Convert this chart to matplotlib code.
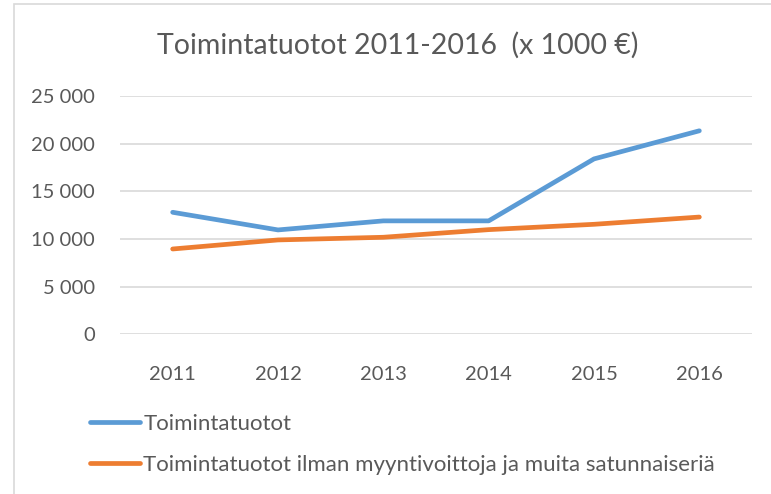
import numpy as np
import matplotlib.pyplot as plt
from matplotlib.patches import Rectangle

years = ['2011', '2012', '2013', '2014', '2015', '2016']
tuotot = [12800, 10950, 11900, 11900, 18400, 21350]
tuotot_ilman = [8950, 9900, 10180, 10980, 11540, 12300]
yticks = [0, 5000, 10000, 15000, 20000, 25000]
names = ['Toimintatuotot', 'Toimintatuotot ilman myyntivoittoja ja muita satunnaiseriä']

plt.rcParams['font.family'] = ['Lato', 'DejaVu Sans']
grey = '#595959'

fig = plt.figure(figsize=(7.71, 4.94), dpi=100)
ax = fig.add_axes([120 / 771, 1 - 334.3 / 494, 632 / 771, 238.3 / 494])

x = np.arange(len(years))
l1, = ax.plot(x, tuotot, color='#5B9BD5', lw=3.4, solid_capstyle='round', solid_joinstyle='round')
l2, = ax.plot(x, tuotot_ilman, color='#ED7D31', lw=3.4, solid_capstyle='round', solid_joinstyle='round')

ax.set_xlim(-0.5, 5.5)
ax.set_ylim(0, 25000)
ax.set_xticks(x)
ax.set_xticklabels(years)
ax.set_yticks(yticks)
ax.set_yticklabels([f'{v:,}'.replace(',', ' ') for v in yticks])
ax.tick_params(length=0, labelsize=14.5, colors=grey)
ax.tick_params(axis='y', pad=18)
ax.tick_params(axis='x', pad=23)
ax.grid(axis='y', color='#D9D9D9', lw=1.2)
ax.set_axisbelow(True)
for s in ax.spines.values():
    s.set_visible(False)

fig.text(398 / 771, 1 - 45 / 494, 'Toimintatuotot 2011-2016  (x 1000 €)',
         ha='center', va='center', fontsize=20.5, color=grey)

fig.legend([l1, l2], names, loc='upper left', bbox_to_anchor=(90 / 771, 1 - 414 / 494),
           frameon=False, fontsize=16, labelcolor=grey, handlelength=2.25,
           handletextpad=0.15, labelspacing=0.95, borderpad=0, borderaxespad=0)

fig.add_artist(Rectangle((14 / 771, -0.1), 1.2, 1.1 - 4 / 494, transform=fig.transFigure,
                         fill=False, edgecolor='#D9D9D9', lw=1.2))

fig.savefig('out.png', dpi=100)
